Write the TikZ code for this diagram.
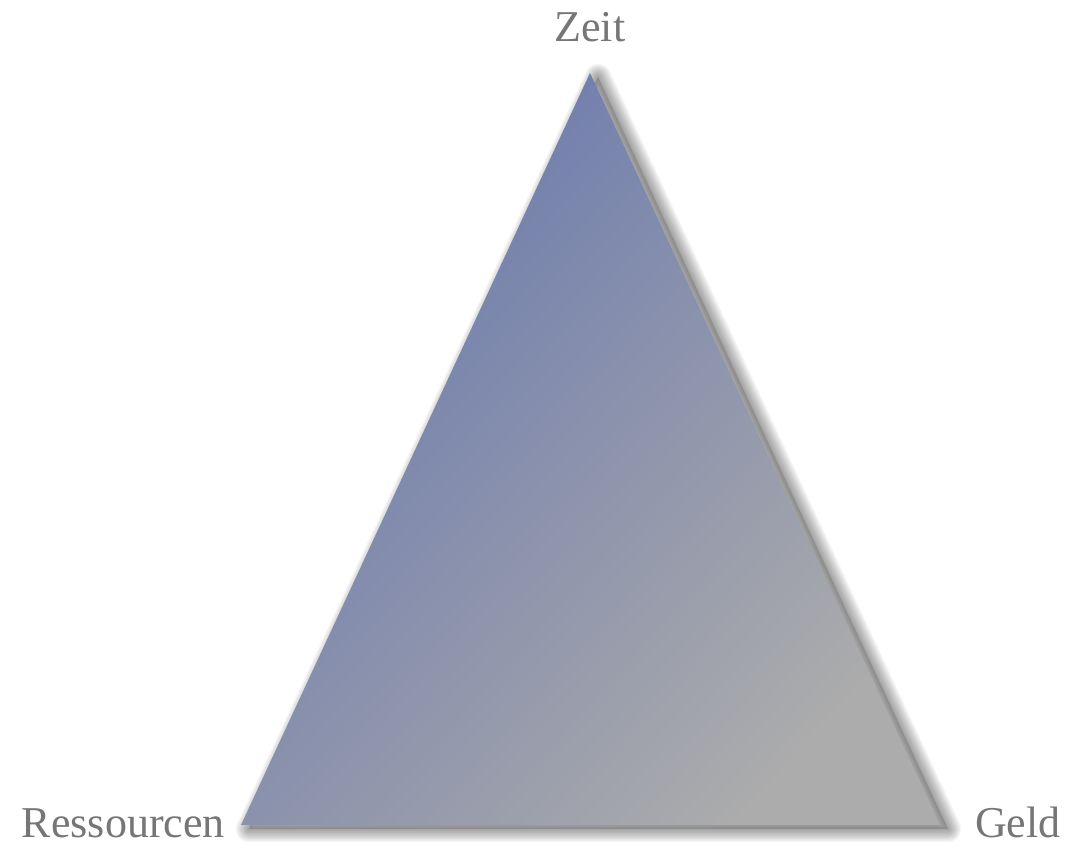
\documentclass[tikz,border=0pt]{standalone}
\usepackage{fontspec}
\setmainfont{Liberation Serif}
\definecolor{topblue}{RGB}{106,121,173}
\definecolor{botgray}{RGB}{172,172,172}
\definecolor{labelgray}{RGB}{118,118,118}
\begin{document}
\begin{tikzpicture}[x=1pt,y=1pt,
  lbl/.style={text=labelgray,font=\fontsize{44}{52}\selectfont,inner sep=0pt},
  softshadow/.style={draw=black,line join=round,opacity=0.035}]
\useasboundingbox (0,0) rectangle (1068,848);
\coordinate (T) at (590,775);
\coordinate (L) at (241,23);
\coordinate (R) at (940,23);
\coordinate (sT) at ([xshift=8pt,yshift=-4pt]T);
\coordinate (sL) at ([xshift=8pt,yshift=-4pt]L);
\coordinate (sR) at ([xshift=8pt,yshift=-4pt]R);
\fill[black,opacity=0.15] (sT) -- (sL) -- (sR) -- cycle;
\foreach \k in {1,...,12}{
  \draw[softshadow,line width=2.2*\k pt] (sT) -- (sL) -- (sR) -- cycle;
}
\shade[top color=topblue,bottom color=botgray,shading angle=48]
  (T) -- (L) -- (R) -- cycle;
\node[lbl,anchor=base] (zeit) at (590,806) {Zeit};
\node[lbl,anchor=base east] (res) at (225,10) {Ressourcen};
\node[lbl,anchor=base west] (geld) at (975,10) {Geld};
\end{tikzpicture}
\end{document}
